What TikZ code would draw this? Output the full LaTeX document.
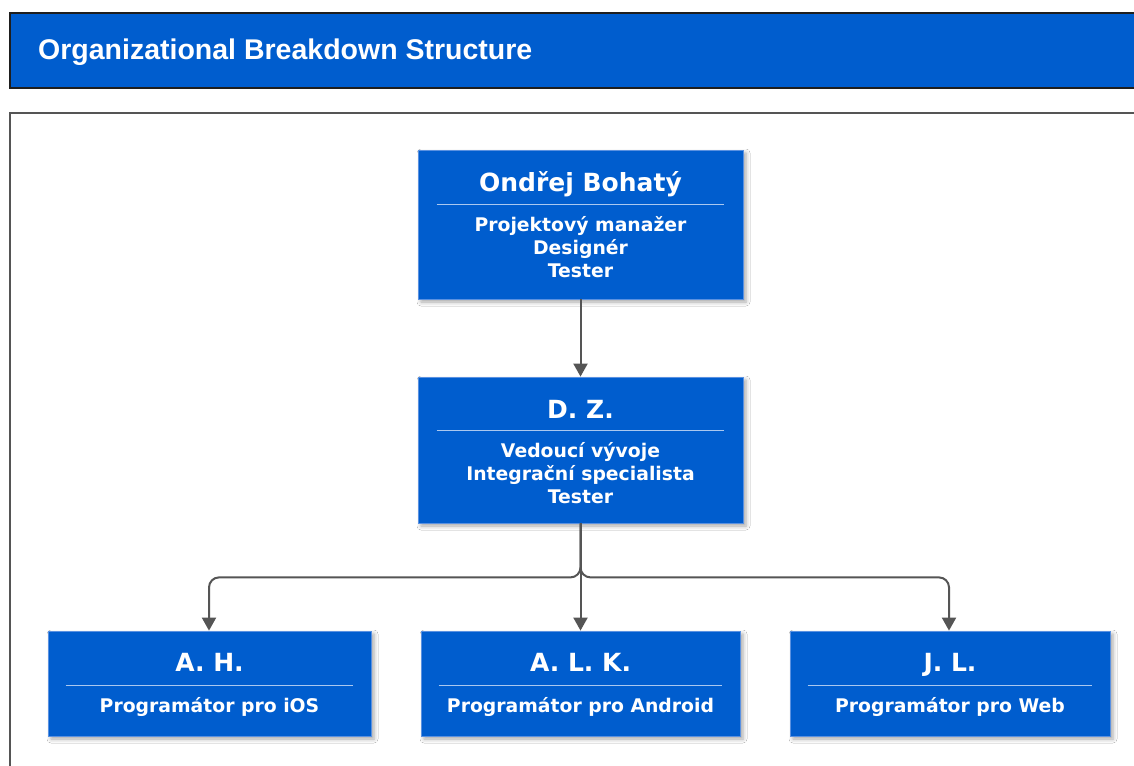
\documentclass[tikz,border=0pt]{standalone}
\usepackage{fontspec}
\setmainfont{DejaVu Sans}
\newfontfamily\headfont{Liberation Sans}
\usetikzlibrary{arrows.meta,calc,shadows.blur}

\definecolor{obsblue}{RGB}{0,93,206}
\definecolor{obsedge}{RGB}{90,145,225}
\definecolor{obsrule}{RGB}{170,200,240}
\definecolor{obsline}{RGB}{85,85,85}
\definecolor{obsframe}{RGB}{30,30,30}

\tikzset{
  x=1pt, y=-1pt,
  orgbox/.style={draw=obsedge, line width=0.8pt, fill=obsblue, inner sep=0pt,
    blur shadow={shadow xshift=3pt, shadow yshift=-3pt, shadow blur radius=4pt, shadow opacity=35}},
  personname/.style={anchor=base, inner sep=0pt, text=white,
    font=\fontsize{25}{29}\selectfont\bfseries},
  roletext/.style={anchor=base, inner sep=0pt, text=white, align=center,
    font=\fontsize{18.8}{23}\selectfont\bfseries},
  divider/.style={draw=obsrule, line width=1pt},
  conn/.style={draw=obsline, line width=2pt, -{Triangle[width=14pt,length=13pt]}},
}

\begin{document}
\begin{tikzpicture}
\clip (0,0) rectangle (1134,765);
\fill[white] (0,0) rectangle (1134,765);

% header bar
\draw[fill=obsblue, draw=obsframe, line width=1.5pt] (10,13) rectangle (1150,88);
\node[anchor=base west, inner sep=0pt, text=white,
  font=\headfont\fontsize{28.5}{31}\selectfont\bfseries] (title) at (38,60)
  {Organizational Breakdown Structure};

% chart panel
\draw[draw=obsline, line width=1.5pt] (10,113) rectangle (1150,800);

% boxes
\node[orgbox, minimum width=325pt, minimum height=149pt] (ob)  at (580.5,224.5) {};
\node[orgbox, minimum width=325pt, minimum height=146pt] (dz)  at (580.5,450) {};
\node[orgbox, minimum width=323pt, minimum height=105pt] (ah)  at (209.5,683.5) {};
\node[orgbox, minimum width=319pt, minimum height=105pt] (alk) at (580.5,683.5) {};
\node[orgbox, minimum width=320pt, minimum height=105pt] (jl)  at (950,683.5) {};

% box contents
\node[personname] (obn) at ($(ob.north)+(0,42)$) {Ondřej Bohatý};
\draw[divider] ($(ob.north west)+(19,55)$) -- ($(ob.north east)+(-19,55)$);
\node[roletext, anchor=north] (obr) at ($(ob.north)+(0,67)$)
  {Projektový manažer\\Designér\\Tester};

\node[personname] (dzn) at ($(dz.north)+(0,42)$) {D. Z.};
\draw[divider] ($(dz.north west)+(19,54)$) -- ($(dz.north east)+(-19,54)$);
\node[roletext, anchor=north] (dzr) at ($(dz.north)+(0,66)$)
  {Vedoucí vývoje\\Integrační specialista\\Tester};

\node[personname] (ahn) at ($(ah.north)+(0,41)$) {A. H.};
\draw[divider] ($(ah.north west)+(18,55)$) -- ($(ah.north east)+(-18,55)$);
\node[roletext] (ahr) at ($(ah.north)+(0,82)$) {Programátor pro iOS};

\node[personname] (alkn) at ($(alk.north)+(0,41)$) {A. L. K.};
\draw[divider] ($(alk.north west)+(18,55)$) -- ($(alk.north east)+(-18,55)$);
\node[roletext] (alkr) at ($(alk.north)+(0,82)$) {Programátor pro Android};

\node[personname] (jln) at ($(jl.north)+(0,41)$) {J. L.};
\draw[divider] ($(jl.north west)+(18,55)$) -- ($(jl.north east)+(-18,55)$);
\node[roletext] (jlr) at ($(jl.north)+(0,82)$) {Programátor pro Web};

% connectors
\draw[conn] (ob.south) -- (dz.north);
\draw[conn] (dz.south) -- (alk.north);
\draw[conn, rounded corners=10pt] (dz.south) -- ++(0,54) -| ($(ah.north)+(-0.5,0)$);
\draw[conn, rounded corners=10pt] (dz.south) -- ++(0,54) -| ($(jl.north)+(-1,0)$);
\end{tikzpicture}
\end{document}
